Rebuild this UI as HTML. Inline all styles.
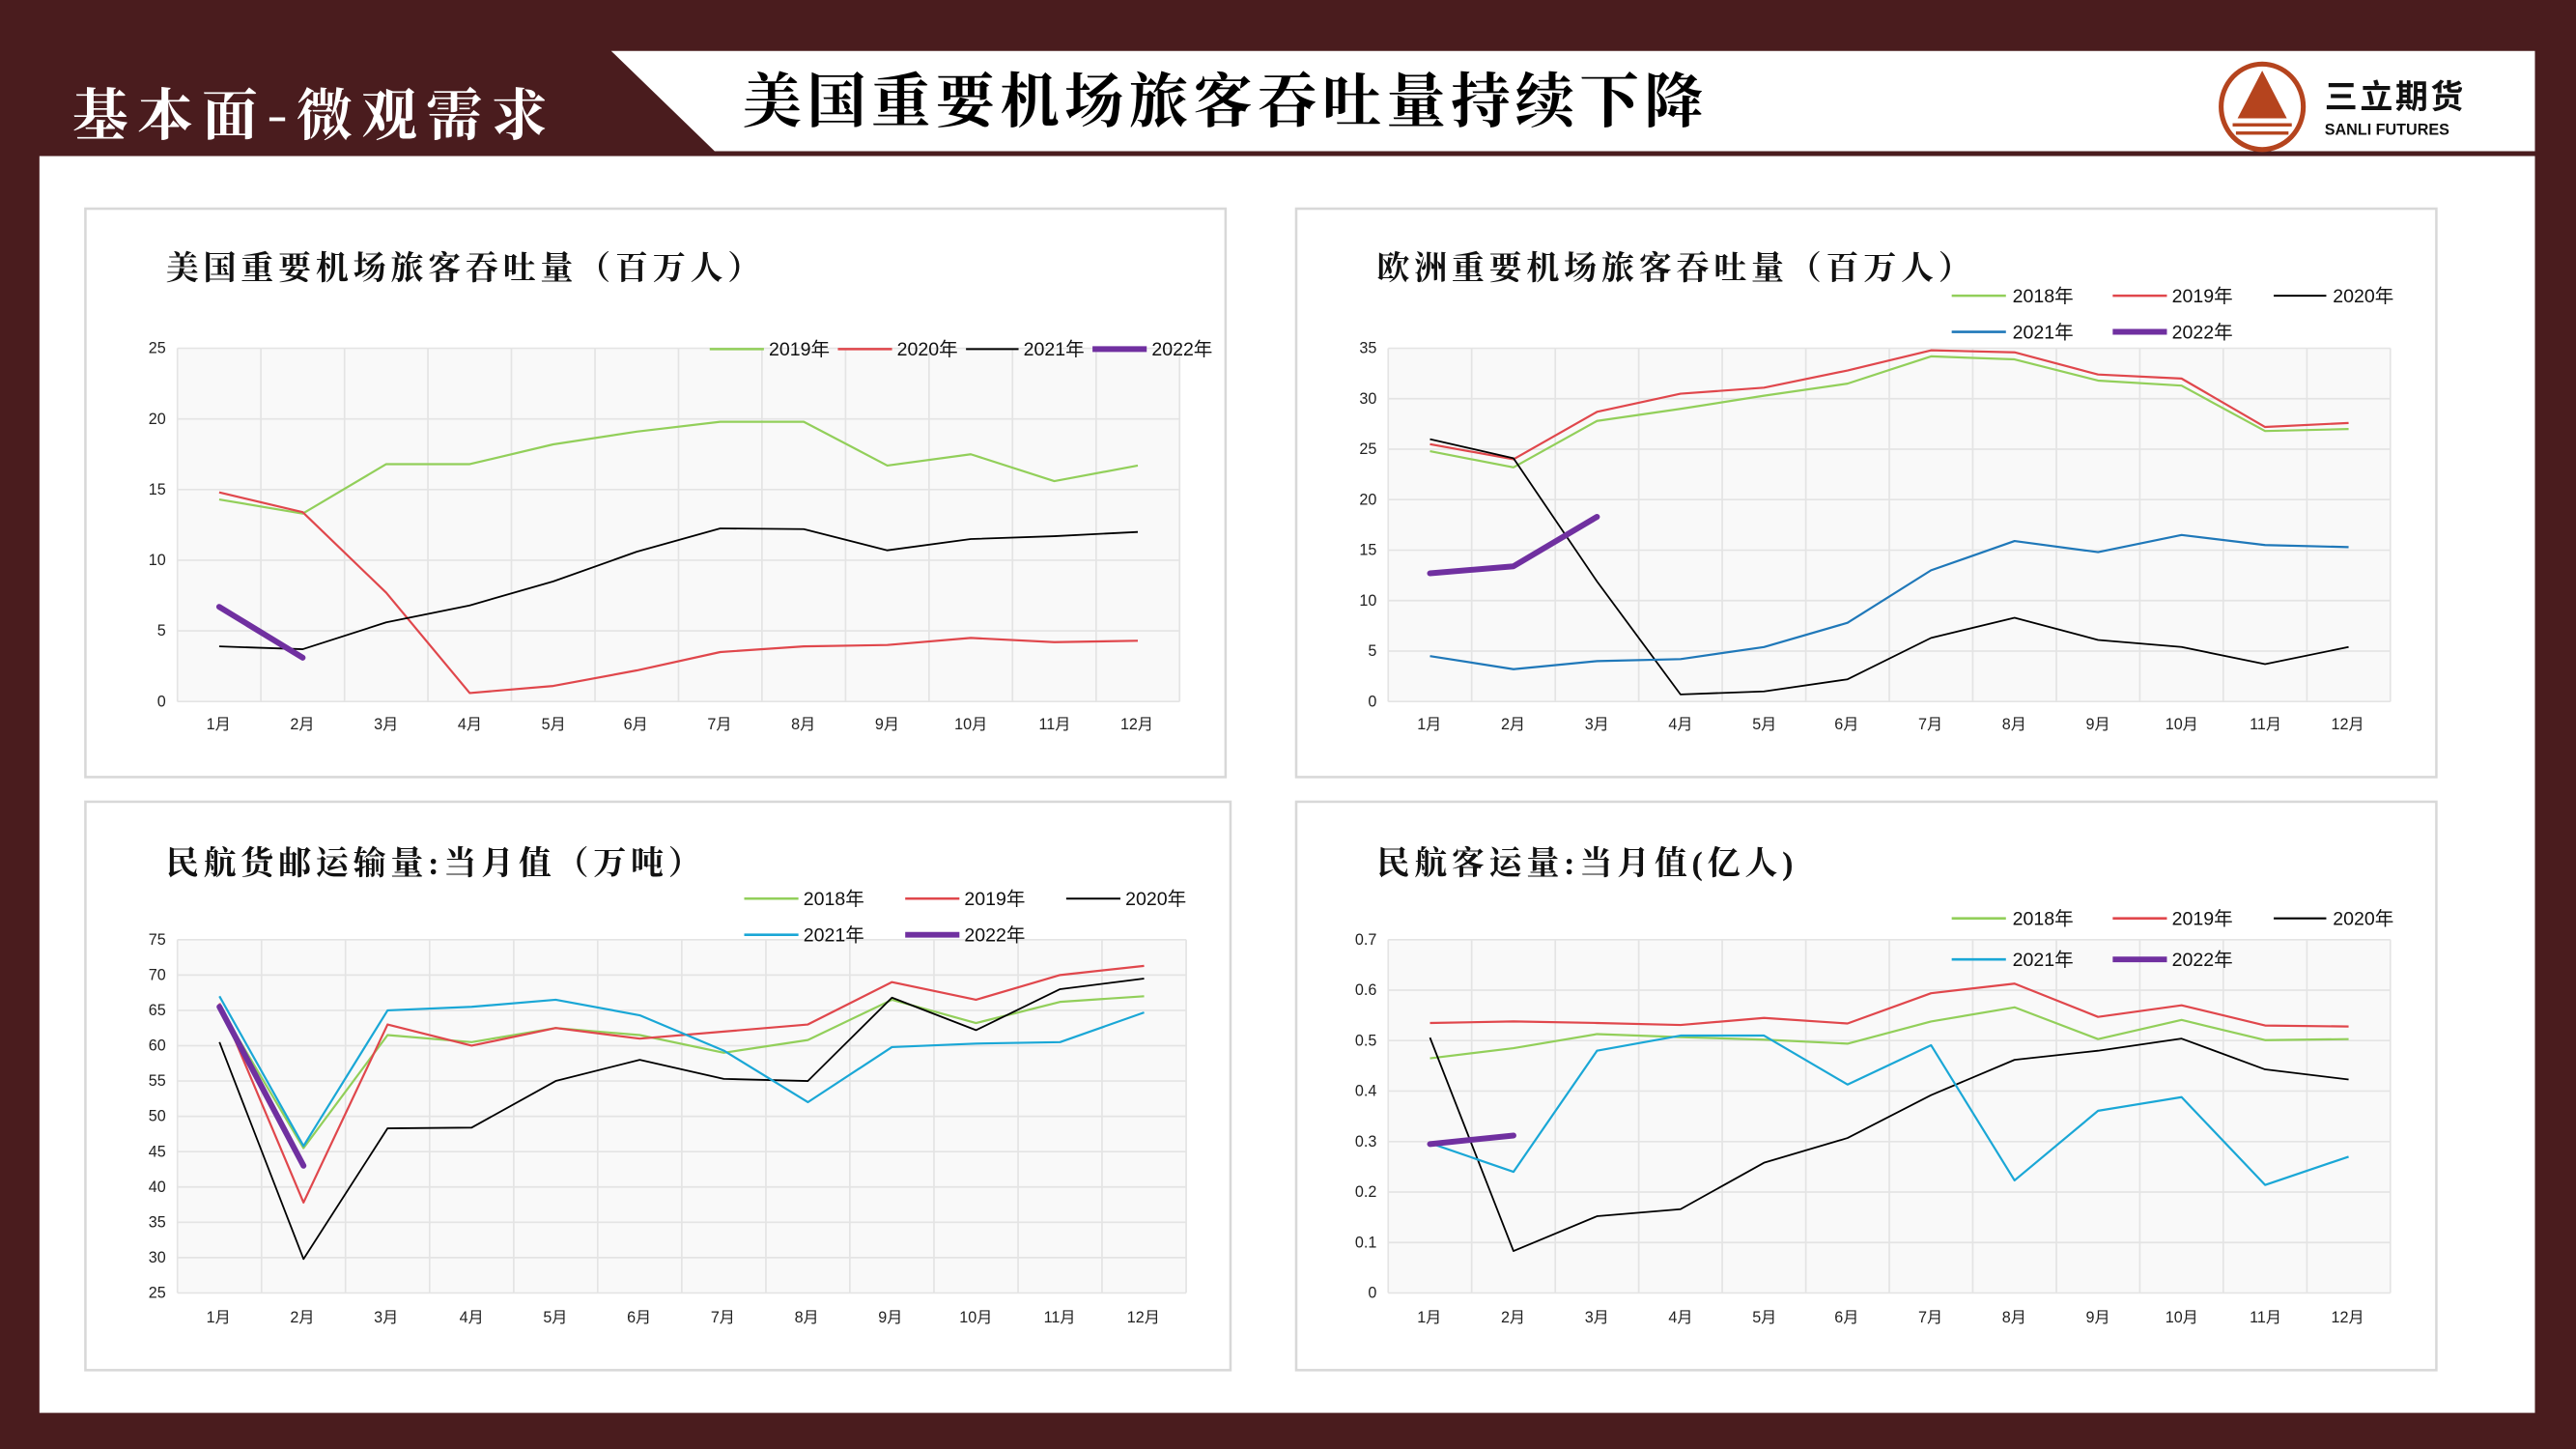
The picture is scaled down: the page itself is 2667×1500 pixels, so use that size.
<!DOCTYPE html>
<html><head><meta charset="utf-8"><style>
html,body{margin:0;padding:0;width:2667px;height:1500px;overflow:hidden;background:#4a1c1e}
svg{display:block}
.t{font-family:"Liberation Sans Narrow","Liberation Sans","Noto Sans CJK SC",sans-serif;font-size:9.5px;fill:#222}
.lg{font-family:"Liberation Sans Narrow","Liberation Sans","Noto Sans CJK SC",sans-serif;font-size:11.5px;fill:#111}
.ti{font-family:"Liberation Serif","Noto Serif CJK SC",serif;font-size:20px;font-weight:bold;fill:#111;letter-spacing:2.8px}
.g{stroke:#e4e4e4;stroke-width:1}
.l{fill:none;vector-effect:non-scaling-stroke;stroke-linejoin:round}
</style></head><body>
<svg width="2667" height="1500" viewBox="0 0 1568 882" preserveAspectRatio="none">
<rect x="0" y="0" width="1568" height="882" fill="#4a1c1e"/>
<rect x="24" y="95" width="1519" height="765" fill="#fff"/>
<polygon points="372,31 1543,31 1543,92 435,92" fill="#fff"/>
<text x="44" y="82" font-family="'Noto Serif CJK SC',serif" font-weight="bold" font-size="34" fill="#fff" letter-spacing="5.5">基本面-微观需求</text>
<text x="452" y="74" font-family="'Noto Serif CJK SC',serif" font-weight="bold" font-size="36" fill="#000" letter-spacing="3.2">美国重要机场旅客吞吐量持续下降</text>
<!-- logo -->
<ellipse cx="1377" cy="65" rx="25" ry="26" fill="none" stroke="#b5441e" stroke-width="3"/>
<polygon points="1377,43 1362,72 1392,72" fill="#b5441e"/>
<rect x="1359" y="75" width="36" height="2" fill="#b5441e"/><rect x="1361" y="80" width="32" height="2" fill="#b5441e"/>
<text x="1415" y="66" font-family="'Noto Sans CJK SC',sans-serif" font-weight="bold" font-size="20" fill="#111" letter-spacing="1.5">三立期货</text>
<text x="1415" y="82" font-family="'Liberation Sans',sans-serif" font-weight="bold" font-size="9.5" fill="#111">SANLI FUTURES</text>

<!-- panels -->
<g fill="#fff" stroke="#d8d8d8" stroke-width="1.5">
<rect x="52" y="127" width="694" height="346"/>
<rect x="789" y="127" width="694" height="346"/>
<rect x="52" y="488" width="697" height="346"/>
<rect x="789" y="488" width="694" height="346"/>
</g>

<!-- ========== Chart 1 ========== -->
<text class="ti" x="101" y="170">美国重要机场旅客吞吐量（百万人）</text>
<rect x="108" y="212" width="610" height="215" fill="#f9f9f9"/>
<g class="g">
<line x1="108" x2="718" y1="212" y2="212"/><line x1="108" x2="718" y1="255" y2="255"/><line x1="108" x2="718" y1="298" y2="298"/><line x1="108" x2="718" y1="341" y2="341"/><line x1="108" x2="718" y1="384" y2="384"/><line x1="108" x2="718" y1="427" y2="427"/>
<line x1="108.0" x2="108.0" y1="212" y2="427"/><line x1="158.8" x2="158.8" y1="212" y2="427"/><line x1="209.7" x2="209.7" y1="212" y2="427"/><line x1="260.5" x2="260.5" y1="212" y2="427"/><line x1="311.3" x2="311.3" y1="212" y2="427"/><line x1="362.2" x2="362.2" y1="212" y2="427"/><line x1="413.0" x2="413.0" y1="212" y2="427"/><line x1="463.8" x2="463.8" y1="212" y2="427"/><line x1="514.7" x2="514.7" y1="212" y2="427"/><line x1="565.5" x2="565.5" y1="212" y2="427"/><line x1="616.3" x2="616.3" y1="212" y2="427"/><line x1="667.2" x2="667.2" y1="212" y2="427"/><line x1="718" x2="718" y1="212" y2="427"/>
</g>
<g class="t" text-anchor="end"><text x="101" y="215">25</text><text x="101" y="258">20</text><text x="101" y="301">15</text><text x="101" y="344">10</text><text x="101" y="387">5</text><text x="101" y="430">0</text></g>
<g class="t" text-anchor="middle"><text x="133" y="444">1月</text><text x="184" y="444">2月</text><text x="235" y="444">3月</text><text x="286" y="444">4月</text><text x="337" y="444">5月</text><text x="387" y="444">6月</text><text x="438" y="444">7月</text><text x="489" y="444">8月</text><text x="540" y="444">9月</text><text x="591" y="444">10月</text><text x="642" y="444">11月</text><text x="692" y="444">12月</text></g>
<svg x="108" y="212" width="610" height="215" viewBox="-0.5 -25 12 25" preserveAspectRatio="none" overflow="visible">
<polyline class="l" stroke="#92cf5a" stroke-width="2.2" points="0,-14.3 1,-13.3 2,-16.8 3,-16.8 4,-18.2 5,-19.1 6,-19.8 7,-19.8 8,-16.7 9,-17.5 10,-15.6 11,-16.7"/>
<polyline class="l" stroke="#e0474c" stroke-width="2.2" points="0,-14.8 1,-13.4 2,-7.7 3,-0.6 4,-1.1 5,-2.2 6,-3.5 7,-3.9 8,-4.0 9,-4.5 10,-4.2 11,-4.3"/>
<polyline class="l" stroke="#000" stroke-width="1.8" points="0,-3.9 1,-3.7 2,-5.6 3,-6.8 4,-8.5 5,-10.6 6,-12.25 7,-12.2 8,-10.7 9,-11.5 10,-11.7 11,-12.0"/>
<polyline class="l" stroke="#7030a0" stroke-width="6" stroke-linecap="round" points="0,-6.7 1,-3.1"/>
</svg>
<g class="lg">
<line x1="432" x2="465" y1="212.5" y2="212.5" stroke="#92cf5a" stroke-width="1.5"/><text x="468" y="216.5">2019年</text>
<line x1="510" x2="543" y1="212.5" y2="212.5" stroke="#e0474c" stroke-width="1.5"/><text x="546" y="216.5">2020年</text>
<line x1="588" x2="620" y1="212.5" y2="212.5" stroke="#000" stroke-width="1.2"/><text x="623" y="216.5">2021年</text>
<line x1="665" x2="698" y1="212.5" y2="212.5" stroke="#7030a0" stroke-width="3.5"/><text x="701" y="216.5">2022年</text>
</g>

<!-- ========== Chart 2 ========== -->
<text class="ti" x="838" y="170">欧洲重要机场旅客吞吐量（百万人）</text>
<rect x="845" y="212" width="610" height="215" fill="#f9f9f9"/>
<g class="g">
<line x1="845" x2="1455" y1="212" y2="212"/><line x1="845" x2="1455" y1="242.7" y2="242.7"/><line x1="845" x2="1455" y1="273.4" y2="273.4"/><line x1="845" x2="1455" y1="304.1" y2="304.1"/><line x1="845" x2="1455" y1="334.9" y2="334.9"/><line x1="845" x2="1455" y1="365.6" y2="365.6"/><line x1="845" x2="1455" y1="396.3" y2="396.3"/><line x1="845" x2="1455" y1="427" y2="427"/>
<line x1="845.0" x2="845.0" y1="212" y2="427"/><line x1="895.8" x2="895.8" y1="212" y2="427"/><line x1="946.7" x2="946.7" y1="212" y2="427"/><line x1="997.5" x2="997.5" y1="212" y2="427"/><line x1="1048.3" x2="1048.3" y1="212" y2="427"/><line x1="1099.2" x2="1099.2" y1="212" y2="427"/><line x1="1150.0" x2="1150.0" y1="212" y2="427"/><line x1="1200.8" x2="1200.8" y1="212" y2="427"/><line x1="1251.7" x2="1251.7" y1="212" y2="427"/><line x1="1302.5" x2="1302.5" y1="212" y2="427"/><line x1="1353.3" x2="1353.3" y1="212" y2="427"/><line x1="1404.2" x2="1404.2" y1="212" y2="427"/><line x1="1455" x2="1455" y1="212" y2="427"/>
</g>
<g class="t" text-anchor="end"><text x="838" y="215">35</text><text x="838" y="245.7">30</text><text x="838" y="276.4">25</text><text x="838" y="307.1">20</text><text x="838" y="337.9">15</text><text x="838" y="368.6">10</text><text x="838" y="399.3">5</text><text x="838" y="430">0</text></g>
<g class="t" text-anchor="middle"><text x="870" y="444">1月</text><text x="921" y="444">2月</text><text x="972" y="444">3月</text><text x="1023" y="444">4月</text><text x="1074" y="444">5月</text><text x="1124" y="444">6月</text><text x="1175" y="444">7月</text><text x="1226" y="444">8月</text><text x="1277" y="444">9月</text><text x="1328" y="444">10月</text><text x="1379" y="444">11月</text><text x="1429" y="444">12月</text></g>
<svg x="845" y="212" width="610" height="215" viewBox="-0.5 -35 12 35" preserveAspectRatio="none" overflow="visible">
<polyline class="l" stroke="#92cf5a" stroke-width="2.2" points="0,-24.8 1,-23.2 2,-27.8 3,-29.0 4,-30.3 5,-31.5 6,-34.2 7,-33.9 8,-31.8 9,-31.3 10,-26.8 11,-27.0"/>
<polyline class="l" stroke="#e0474c" stroke-width="2.2" points="0,-25.5 1,-24.0 2,-28.7 3,-30.5 4,-31.1 5,-32.8 6,-34.8 7,-34.6 8,-32.4 9,-32.0 10,-27.2 11,-27.6"/>
<polyline class="l" stroke="#000" stroke-width="1.8" points="0,-26.0 1,-24.1 2,-11.9 3,-0.7 4,-1.0 5,-2.2 6,-6.3 7,-8.3 8,-6.1 9,-5.4 10,-3.7 11,-5.4"/>
<polyline class="l" stroke="#1f78b9" stroke-width="2.2" points="0,-4.5 1,-3.2 2,-4.0 3,-4.2 4,-5.4 5,-7.8 6,-13.0 7,-15.9 8,-14.8 9,-16.5 10,-15.5 11,-15.3"/>
<polyline class="l" stroke="#7030a0" stroke-width="6" stroke-linecap="round" points="0,-12.7 1,-13.4 2,-18.3"/>
</svg>
<g class="lg">
<line x1="1188" x2="1221" y1="180" y2="180" stroke="#92cf5a" stroke-width="1.5"/><text x="1225" y="184">2018年</text>
<line x1="1286" x2="1319" y1="180" y2="180" stroke="#e0474c" stroke-width="1.5"/><text x="1322" y="184">2019年</text>
<line x1="1384" x2="1416" y1="180" y2="180" stroke="#000" stroke-width="1.2"/><text x="1420" y="184">2020年</text>
<line x1="1188" x2="1221" y1="202" y2="202" stroke="#1f78b9" stroke-width="1.5"/><text x="1225" y="206">2021年</text>
<line x1="1286" x2="1319" y1="202" y2="202" stroke="#7030a0" stroke-width="3.5"/><text x="1322" y="206">2022年</text>
</g>

<!-- ========== Chart 3 ========== -->
<text class="ti" x="101" y="532">民航货邮运输量:当月值（万吨）</text>
<rect x="108" y="572" width="614" height="215" fill="#f9f9f9"/>
<g class="g">
<line x1="108" x2="722" y1="572" y2="572"/><line x1="108" x2="722" y1="593.5" y2="593.5"/><line x1="108" x2="722" y1="615" y2="615"/><line x1="108" x2="722" y1="636.5" y2="636.5"/><line x1="108" x2="722" y1="658" y2="658"/><line x1="108" x2="722" y1="679.5" y2="679.5"/><line x1="108" x2="722" y1="701" y2="701"/><line x1="108" x2="722" y1="722.5" y2="722.5"/><line x1="108" x2="722" y1="744" y2="744"/><line x1="108" x2="722" y1="765.5" y2="765.5"/><line x1="108" x2="722" y1="787" y2="787"/>
<line x1="108.0" x2="108.0" y1="572" y2="787"/><line x1="159.2" x2="159.2" y1="572" y2="787"/><line x1="210.3" x2="210.3" y1="572" y2="787"/><line x1="261.5" x2="261.5" y1="572" y2="787"/><line x1="312.7" x2="312.7" y1="572" y2="787"/><line x1="363.8" x2="363.8" y1="572" y2="787"/><line x1="415.0" x2="415.0" y1="572" y2="787"/><line x1="466.2" x2="466.2" y1="572" y2="787"/><line x1="517.3" x2="517.3" y1="572" y2="787"/><line x1="568.5" x2="568.5" y1="572" y2="787"/><line x1="619.7" x2="619.7" y1="572" y2="787"/><line x1="670.8" x2="670.8" y1="572" y2="787"/><line x1="722" x2="722" y1="572" y2="787"/>
</g>
<g class="t" text-anchor="end"><text x="101" y="575">75</text><text x="101" y="596.5">70</text><text x="101" y="618">65</text><text x="101" y="639.5">60</text><text x="101" y="661">55</text><text x="101" y="682.5">50</text><text x="101" y="704">45</text><text x="101" y="725.5">40</text><text x="101" y="747">35</text><text x="101" y="768.5">30</text><text x="101" y="790">25</text></g>
<g class="t" text-anchor="middle"><text x="133" y="805">1月</text><text x="184" y="805">2月</text><text x="235" y="805">3月</text><text x="287" y="805">4月</text><text x="338" y="805">5月</text><text x="389" y="805">6月</text><text x="440" y="805">7月</text><text x="491" y="805">8月</text><text x="542" y="805">9月</text><text x="594" y="805">10月</text><text x="645" y="805">11月</text><text x="696" y="805">12月</text></g>
<svg x="108" y="572" width="614" height="215" viewBox="-0.5 -75 12 50" preserveAspectRatio="none" overflow="visible">
<polyline class="l" stroke="#92cf5a" stroke-width="2.2" points="0,-65.5 1,-45.5 2,-61.5 3,-60.5 4,-62.5 5,-61.5 6,-59 7,-60.8 8,-66.5 9,-63.2 10,-66.2 11,-67"/>
<polyline class="l" stroke="#e0474c" stroke-width="2.2" points="0,-66 1,-37.8 2,-63 3,-60 4,-62.5 5,-61 6,-62 7,-63 8,-69 9,-66.5 10,-70 11,-71.3"/>
<polyline class="l" stroke="#000" stroke-width="1.8" points="0,-60.5 1,-29.8 2,-48.3 3,-48.4 4,-55 5,-58 6,-55.3 7,-55 8,-66.8 9,-62.2 10,-68 11,-69.5"/>
<polyline class="l" stroke="#1aa7d6" stroke-width="2.2" points="0,-67 1,-45.8 2,-65 3,-65.5 4,-66.5 5,-64.3 6,-59.3 7,-52 8,-59.8 9,-60.3 10,-60.5 11,-64.7"/>
<polyline class="l" stroke="#7030a0" stroke-width="6" stroke-linecap="round" points="0,-65.5 1,-43"/>
</svg>
<g class="lg">
<line x1="453" x2="486" y1="547" y2="547" stroke="#92cf5a" stroke-width="1.5"/><text x="489" y="551">2018年</text>
<line x1="551" x2="584" y1="547" y2="547" stroke="#e0474c" stroke-width="1.5"/><text x="587" y="551">2019年</text>
<line x1="649" x2="682" y1="547" y2="547" stroke="#000" stroke-width="1.2"/><text x="685" y="551">2020年</text>
<line x1="453" x2="486" y1="569" y2="569" stroke="#1aa7d6" stroke-width="1.5"/><text x="489" y="573">2021年</text>
<line x1="551" x2="584" y1="569" y2="569" stroke="#7030a0" stroke-width="3.5"/><text x="587" y="573">2022年</text>
</g>

<!-- ========== Chart 4 ========== -->
<text class="ti" x="838" y="532">民航客运量:当月值(亿人)</text>
<rect x="845" y="572" width="610" height="215" fill="#f9f9f9"/>
<g class="g">
<line x1="845" x2="1455" y1="572" y2="572"/><line x1="845" x2="1455" y1="602.7" y2="602.7"/><line x1="845" x2="1455" y1="633.4" y2="633.4"/><line x1="845" x2="1455" y1="664.1" y2="664.1"/><line x1="845" x2="1455" y1="694.9" y2="694.9"/><line x1="845" x2="1455" y1="725.6" y2="725.6"/><line x1="845" x2="1455" y1="756.3" y2="756.3"/><line x1="845" x2="1455" y1="787" y2="787"/>
<line x1="845.0" x2="845.0" y1="572" y2="787"/><line x1="895.8" x2="895.8" y1="572" y2="787"/><line x1="946.7" x2="946.7" y1="572" y2="787"/><line x1="997.5" x2="997.5" y1="572" y2="787"/><line x1="1048.3" x2="1048.3" y1="572" y2="787"/><line x1="1099.2" x2="1099.2" y1="572" y2="787"/><line x1="1150.0" x2="1150.0" y1="572" y2="787"/><line x1="1200.8" x2="1200.8" y1="572" y2="787"/><line x1="1251.7" x2="1251.7" y1="572" y2="787"/><line x1="1302.5" x2="1302.5" y1="572" y2="787"/><line x1="1353.3" x2="1353.3" y1="572" y2="787"/><line x1="1404.2" x2="1404.2" y1="572" y2="787"/><line x1="1455" x2="1455" y1="572" y2="787"/>
</g>
<g class="t" text-anchor="end"><text x="838" y="575">0.7</text><text x="838" y="605.7">0.6</text><text x="838" y="636.4">0.5</text><text x="838" y="667.1">0.4</text><text x="838" y="697.9">0.3</text><text x="838" y="728.6">0.2</text><text x="838" y="759.3">0.1</text><text x="838" y="790">0</text></g>
<g class="t" text-anchor="middle"><text x="870" y="805">1月</text><text x="921" y="805">2月</text><text x="972" y="805">3月</text><text x="1023" y="805">4月</text><text x="1074" y="805">5月</text><text x="1124" y="805">6月</text><text x="1175" y="805">7月</text><text x="1226" y="805">8月</text><text x="1277" y="805">9月</text><text x="1328" y="805">10月</text><text x="1379" y="805">11月</text><text x="1429" y="805">12月</text></g>
<svg x="845" y="572" width="610" height="215" viewBox="-0.5 -0.7 12 0.7" preserveAspectRatio="none" overflow="visible">
<polyline class="l" stroke="#92cf5a" stroke-width="2.2" points="0,-0.465 1,-0.485 2,-0.513 3,-0.507 4,-0.502 5,-0.494 6,-0.538 7,-0.566 8,-0.503 9,-0.541 10,-0.501 11,-0.503"/>
<polyline class="l" stroke="#e0474c" stroke-width="2.2" points="0,-0.535 1,-0.538 2,-0.535 3,-0.531 4,-0.545 5,-0.534 6,-0.594 7,-0.613 8,-0.547 9,-0.57 10,-0.53 11,-0.528"/>
<polyline class="l" stroke="#000" stroke-width="1.8" points="0,-0.506 1,-0.083 2,-0.152 3,-0.166 4,-0.258 5,-0.307 6,-0.392 7,-0.462 8,-0.48 9,-0.504 10,-0.443 11,-0.423"/>
<polyline class="l" stroke="#1aa7d6" stroke-width="2.2" points="0,-0.297 1,-0.24 2,-0.48 3,-0.51 4,-0.51 5,-0.413 6,-0.491 7,-0.223 8,-0.361 9,-0.388 10,-0.214 11,-0.27"/>
<polyline class="l" stroke="#7030a0" stroke-width="6" stroke-linecap="round" points="0,-0.295 1,-0.312"/>
</svg>
<g class="lg">
<line x1="1188" x2="1221" y1="559" y2="559" stroke="#92cf5a" stroke-width="1.5"/><text x="1225" y="563">2018年</text>
<line x1="1286" x2="1319" y1="559" y2="559" stroke="#e0474c" stroke-width="1.5"/><text x="1322" y="563">2019年</text>
<line x1="1384" x2="1416" y1="559" y2="559" stroke="#000" stroke-width="1.2"/><text x="1420" y="563">2020年</text>
<line x1="1188" x2="1221" y1="584" y2="584" stroke="#1aa7d6" stroke-width="1.5"/><text x="1225" y="588">2021年</text>
<line x1="1286" x2="1319" y1="584" y2="584" stroke="#7030a0" stroke-width="3.5"/><text x="1322" y="588">2022年</text>
</g>
</svg>
</body></html>
